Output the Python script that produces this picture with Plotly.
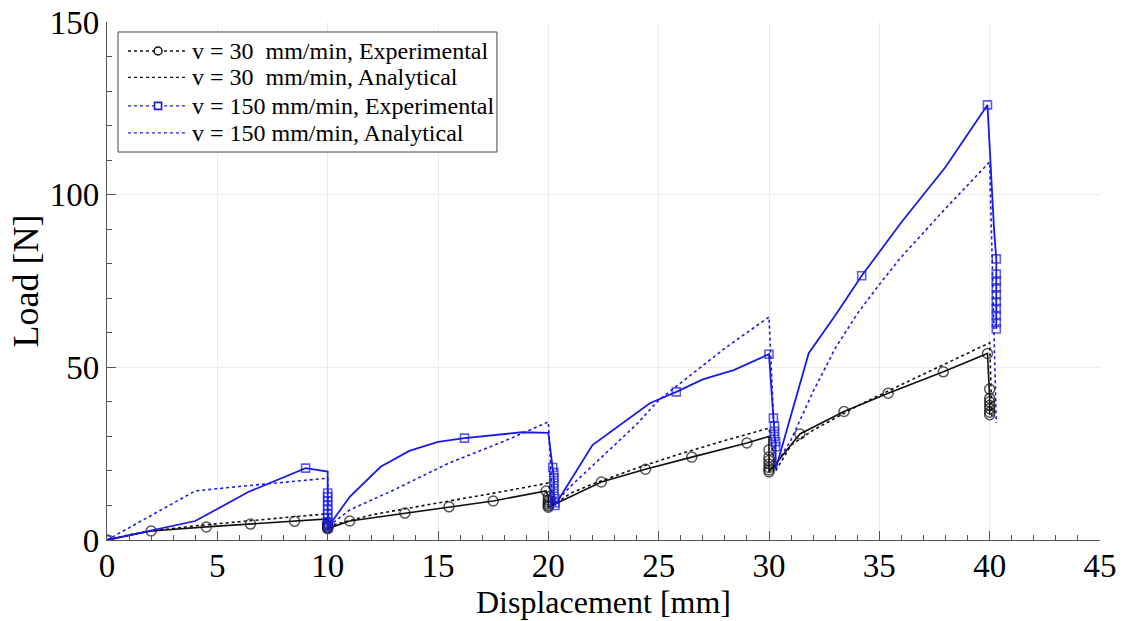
import plotly.graph_objects as go

# ---- Data ----
# v = 30 mm/min, Experimental
exp30_x = [0, 2.0, 4.5, 6.5, 8.5, 10.0,
           10.0, 10.0, 10.0, 10.0, 10.0, 10.0,
           11.0, 13.5, 15.5, 17.5, 19.9,
           20.0, 20.0, 20.0, 20.0, 20.0, 20.0,
           22.4, 24.4, 26.5, 29.0, 30.0,
           30.0, 30.0, 30.0, 30.0, 30.0, 30.0, 30.0,
           31.4, 33.4, 35.4, 37.9, 39.9,
           40.0, 40.0, 40.0, 40.0, 40.0, 40.0, 40.0]
exp30_y = [0, 2.6, 3.8, 4.6, 5.4, 6.1,
           4.9, 4.5, 4.1, 3.8, 3.5, 3.3,
           5.5, 7.8, 9.6, 11.3, 14.2,
           12.5, 11.6, 11.0, 10.4, 9.9, 9.5,
           16.8, 20.5, 24.0, 28.1, 30.0,
           26.1, 24.0, 23.0, 22.0, 21.0, 20.3, 19.7,
           30.7, 37.2, 42.5, 48.7, 54.0,
           43.7, 41.0, 40.0, 39.0, 38.0, 37.0, 36.3]
exp30_mark = [1, 1, 1, 1, 1, 0,
              1, 1, 1, 1, 1, 1,
              1, 1, 1, 1, 1,
              1, 1, 1, 1, 1, 1,
              1, 1, 1, 1, 0,
              1, 1, 1, 1, 1, 1, 1,
              1, 1, 1, 1, 1,
              1, 1, 1, 1, 1, 1, 1]

# v = 30 mm/min, Analytical
ana30_x = [0, 1, 2, 4, 6, 8, 10.0,
           10.05, 12, 14, 16, 18, 20.0,
           20.2, 21, 22, 24, 26, 28, 30.0,
           30.3, 31, 32, 34, 36, 38, 40.0,
           40.1]
ana30_y = [0, 1.5, 2.6, 4.1, 5.3, 6.5, 7.6,
           4.0, 7.3, 9.6, 11.8, 14.1, 16.5,
           10.0, 13.5, 16.2, 20.8, 25.0, 28.8, 32.4,
           20.0, 27.5, 31.8, 38.8, 45.0, 51.0, 57.1,
           36.0]

# v = 150 mm/min, Experimental
exp150_x = [0, 4.0, 6.4, 9.0, 10.0,
            10.0, 10.0, 10.0, 10.0, 10.0, 10.0, 10.0, 10.0, 10.0, 10.0,
            11.0, 12.4, 13.7, 15.0, 16.2, 18.8, 20.0,
            20.2, 20.25, 20.25, 20.25, 20.25, 20.25, 20.3, 20.3, 20.3,
            22.0, 23.5, 24.6, 25.8, 27.0, 28.4, 30.0,
            30.2, 30.25, 30.25, 30.25, 30.3, 30.3, 30.3,
            31.8, 33.0, 34.2, 36.0, 38.0, 39.9,
            40.2, 40.3, 40.3, 40.3, 40.3, 40.3, 40.3, 40.3, 40.3, 40.3, 40.3]
exp150_y = [0, 5.5, 13.9, 20.8, 19.8,
            13.6, 12.5, 11.3, 10.0, 8.8, 7.5, 6.3, 5.2, 4.3, 3.6,
            12.5, 21.2, 25.8, 28.4, 29.5, 31.2, 31.0,
            21.0, 19.5, 18.0, 16.5, 15.0, 13.5, 12.0, 10.8, 10.0,
            27.5, 34.5, 39.6, 42.9, 46.5, 49.2, 53.8,
            35.3, 33.0, 31.5, 30.0, 28.5, 27.0, 20.5,
            54.1, 65.0, 76.5, 92.0, 108.0, 126.0,
            89.8, 81.4, 77.0, 75.0, 73.0, 71.0, 69.0, 67.0, 65.0, 63.0, 61.1]
exp150_mark = [1, 0, 0, 1, 0,
               1, 1, 1, 1, 1, 1, 1, 1, 1, 1,
               0, 0, 0, 0, 1, 0, 0,
               1, 1, 1, 1, 1, 1, 1, 1, 1,
               0, 0, 0, 1, 0, 0, 1,
               1, 1, 1, 1, 1, 1, 0,
               0, 0, 1, 0, 0, 1,
               0, 1, 1, 1, 1, 1, 1, 1, 1, 1, 1]

# v = 150 mm/min, Analytical
ana150_x = [0, 4.0, 6, 8, 10.0,
            10.05, 11, 13, 15.5, 18, 20.0,
            20.2, 21, 22, 23, 24, 25, 26, 28, 30.0,
            30.3, 31, 31.5, 32, 33, 34, 35, 36, 38, 40.0,
            40.3]
ana150_y = [0, 14.2, 15.5, 16.8, 17.9,
            4.0, 8.7, 14.5, 22.3, 28.6, 34.2,
            10.0, 15.5, 21.5, 27.5, 33.5, 40.5, 45.5, 55.5, 64.6,
            21.7, 29.0, 36.0, 43.0, 55.5, 65.5, 74.0, 82.0, 96.0, 109.5,
            33.9]

x_ticks = [0, 5, 10, 15, 20, 25, 30, 35, 40, 45]
y_ticks = [0, 50, 100, 150]

legend_names = ["v = 30  mm/min, Experimental",
                "v = 30  mm/min, Analytical",
                "v = 150 mm/min, Experimental",
                "v = 150 mm/min, Analytical"]

BLACK = "#111111"
BLUE = "#1a1ae6"
FONT = "Liberation Serif, Times New Roman, serif"

legend_colors = [BLACK, BLACK, BLUE, BLUE]
legend_symbols = ["circle", None, "square", None]

fig = go.Figure()

fig.add_trace(go.Scatter(
    x=ana30_x, y=ana30_y, mode="lines", name=legend_names[1], showlegend=False,
    line=dict(color=BLACK, width=1.6, dash="dot")))
fig.add_trace(go.Scatter(
    x=ana150_x, y=ana150_y, mode="lines", name=legend_names[3], showlegend=False,
    line=dict(color=BLUE, width=1.6, dash="dot")))
fig.add_trace(go.Scatter(
    x=exp30_x, y=exp30_y, mode="lines+markers", name=legend_names[0], showlegend=False,
    line=dict(color=BLACK, width=1.6),
    marker=dict(symbol="circle-open", color=BLACK,
                size=[10 if m else 0 for m in exp30_mark],
                line=dict(width=1.5, color=BLACK))))
fig.add_trace(go.Scatter(
    x=exp150_x, y=exp150_y, mode="lines+markers", name=legend_names[2], showlegend=False,
    line=dict(color=BLUE, width=1.8),
    marker=dict(symbol="square-open", color=BLUE,
                size=[8 if m else 0 for m in exp150_mark],
                line=dict(width=1.6, color=BLUE))))

# ---- hand-drawn legend box (paper coordinates) ----
shapes = [dict(type="rect", xref="paper", yref="paper",
               x0=0.0111, x1=0.3927, y0=0.749, y1=0.9807,
               line=dict(color="#444444", width=1), fillcolor="white", layer="above")]
annotations = []
row_y = [0.944, 0.893, 0.838, 0.786]
for name, col, sym, yy in zip(legend_names, legend_colors, legend_symbols, row_y):
    shapes.append(dict(type="line", xref="paper", yref="paper",
                       x0=0.0211, x1=0.0785, y0=yy, y1=yy, layer="above",
                       line=dict(color=col, width=1.3, dash="dot")))
    if sym == "circle":
        shapes.append(dict(type="circle", xref="paper", yref="paper", layer="above",
                           xsizemode="pixel", ysizemode="pixel",
                           xanchor=0.0514, yanchor=yy, x0=-4, x1=4, y0=-4, y1=4,
                           line=dict(color=col, width=1.5), fillcolor="white"))
    elif sym == "square":
        shapes.append(dict(type="rect", xref="paper", yref="paper", layer="above",
                           xsizemode="pixel", ysizemode="pixel",
                           xanchor=0.0514, yanchor=yy, x0=-3.5, x1=3.5, y0=-3.5, y1=3.5,
                           line=dict(color=col, width=1.6), fillcolor="white"))
    annotations.append(dict(xref="paper", yref="paper", x=0.0836, y=yy,
                            xanchor="left", yanchor="middle", showarrow=False,
                            text=name, font=dict(family=FONT, size=24, color="black")))

fig.update_layout(
    width=1122, height=621,
    margin=dict(l=107, r=22, t=22, b=81),
    paper_bgcolor="white", plot_bgcolor="white",
    font=dict(family=FONT, color="black"),
    showlegend=False,
    shapes=shapes,
    annotations=annotations,
    xaxis=dict(range=[0, 45], tickvals=x_ticks, ticktext=[str(v) for v in x_ticks],
               automargin=False,
               showgrid=True, gridcolor="#ececec", gridwidth=1,
               zeroline=False, showline=True, linecolor="#555555", linewidth=1.2,
               ticks="inside", ticklen=9, tickcolor="#555555",
               ticklabelstandoff=-4, ticklabeloverflow="allow",
               minor=dict(dtick=1, ticks="inside", ticklen=5, tickcolor="#555555", showgrid=False),
               tickfont=dict(family=FONT, size=33, color="black"),
               title=dict(text="Displacement [mm]", font=dict(family=FONT, size=32, color="black"),
                          standoff=0)),
    yaxis=dict(range=[0, 150], tickvals=y_ticks, ticktext=[str(v) for v in y_ticks],
               automargin=False, ticklabeloverflow="allow",
               showgrid=True, gridcolor="#ececec", gridwidth=1,
               zeroline=False, showline=True, linecolor="#555555", linewidth=1.2,
               ticks="inside", ticklen=9, tickcolor="#555555",
               minor=dict(dtick=10, ticks="inside", ticklen=5, tickcolor="#555555", showgrid=False),
               tickfont=dict(family=FONT, size=33, color="black"),
               title=dict(text="Load [N]", font=dict(family=FONT, size=36, color="black"),
                          standoff=0)),
)

fig.write_html("out.html", config={"displayModeBar": False},
               post_script="document.body.style.margin='0px';")
